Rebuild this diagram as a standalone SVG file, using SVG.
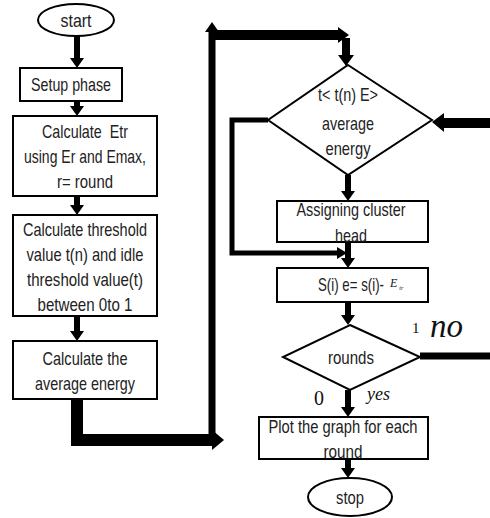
<svg xmlns="http://www.w3.org/2000/svg" width="490" height="518" viewBox="0 0 490 518">
<style>
.box{fill:#fff;stroke:#000;stroke-width:2}
.t{font-family:"Liberation Sans",Arial,sans-serif;font-size:19px;fill:#222;text-anchor:middle}
.ln{fill:none;stroke:#000;stroke-linejoin:miter}
.hd{fill:#000}
.it{font-family:"Liberation Serif","Times New Roman",serif;font-style:italic;fill:#111}
.sf{font-family:"Liberation Serif","Times New Roman",serif;fill:#111}
</style>
<rect width="490" height="518" fill="#fff"/>
<g id="connectors">
  <path class="ln" stroke-width="6" d="M77 35V59M77 101V107M77 196V206M77 316V332M348 175V192M348 242V259M348 302V316M348 390V408M348 459V469"/>
  <polygon class="hd" points="70,58 84,58 77,68"/>
  <polygon class="hd" points="70,106 84,106 77,116"/>
  <polygon class="hd" points="70,205 84,205 77,215"/>
  <polygon class="hd" points="70,331 84,331 77,341"/>
  <polygon class="hd" points="341,191 355,191 348,201"/>
  <polygon class="hd" points="341,258 355,258 348,268"/>
  <polygon class="hd" points="341,315 355,315 348,325"/>
  <polygon class="hd" points="341,407 355,407 348,417"/>
  <polygon class="hd" points="341,468 355,468 348,478"/>
  <path class="ln" stroke-width="12" d="M77 399V440H214"/>
  <polygon class="hd" points="212,430 224,440 212,450"/>
  <path class="ln" stroke-width="7" d="M212 446V30"/>
  <polygon class="hd" points="205,32 212,22 219,32"/>
  <path class="ln" stroke-width="10" d="M209 35H340"/>
  <polygon class="hd" points="338,27 349,35 338,43"/>
  <path class="ln" stroke-width="8" d="M346 38V56"/>
  <polygon class="hd" points="338,55 354,55 346,66"/>
  <path class="ln" stroke-width="10" d="M490 123H442"/>
  <polygon class="hd" points="444,113 432,122 444,132"/>
  <path class="ln" stroke-width="5" d="M268 120H232V253H338"/>
  <polygon class="hd" points="337,247 347,253 337,259"/>
  <path class="ln" stroke-width="7" d="M420 356H490"/>
</g>
<g id="start">
  <ellipse class="box" cx="76" cy="20" rx="38" ry="16"/>
  <text class="t" x="76" y="27" textLength="31" lengthAdjust="spacingAndGlyphs">start</text>
</g>
<g id="setup">
  <rect class="box" x="20" y="68" width="102" height="33"/>
  <text class="t" x="71" y="91" textLength="80" lengthAdjust="spacingAndGlyphs">Setup phase</text>
</g>
<g id="etr">
  <rect class="box" x="13" y="116" width="144" height="80"/>
  <text class="t" x="85" y="138" textLength="86" lengthAdjust="spacingAndGlyphs" style="white-space:pre">Calculate  Etr</text>
  <text class="t" x="85" y="163" textLength="122" lengthAdjust="spacingAndGlyphs">using Er and Emax,</text>
  <text class="t" x="85" y="188" textLength="56" lengthAdjust="spacingAndGlyphs">r= round</text>
</g>
<g id="threshold">
  <rect class="box" x="13" y="215" width="144" height="101"/>
  <text class="t" x="85" y="236" textLength="124" lengthAdjust="spacingAndGlyphs">Calculate threshold</text>
  <text class="t" x="85" y="261" textLength="117" lengthAdjust="spacingAndGlyphs">value t(n) and idle</text>
  <text class="t" x="85" y="286" textLength="116" lengthAdjust="spacingAndGlyphs">threshold value(t)</text>
  <text class="t" x="85" y="311" textLength="95" lengthAdjust="spacingAndGlyphs">between 0to 1</text>
</g>
<g id="average">
  <rect class="box" x="13" y="341" width="144" height="58"/>
  <text class="t" x="85" y="365" textLength="85" lengthAdjust="spacingAndGlyphs">Calculate the</text>
  <text class="t" x="85" y="390" textLength="100" lengthAdjust="spacingAndGlyphs">average energy</text>
</g>
<g id="decision">
  <polygon class="box" points="348,65 432,120 348,175 268,120"/>
  <text class="t" x="348" y="101" textLength="60" lengthAdjust="spacingAndGlyphs">t&lt; t(n) E&gt;</text>
  <text class="t" x="348" y="130" textLength="52" lengthAdjust="spacingAndGlyphs">average</text>
  <text class="t" x="348" y="155" textLength="45" lengthAdjust="spacingAndGlyphs">energy</text>
</g>
<g id="cluster">
  <rect class="box" x="277" y="201" width="151" height="41"/>
  <text class="t" x="351" y="216" textLength="109" lengthAdjust="spacingAndGlyphs">Assigning cluster</text>
  <text class="t" x="351" y="242" textLength="32" lengthAdjust="spacingAndGlyphs">head</text>
</g>
<g id="energy">
  <rect class="box" x="277" y="268" width="151" height="34"/>
  <text class="t" x="318" y="291" textLength="66" lengthAdjust="spacingAndGlyphs" style="text-anchor:start">S(i) e= s(i)-</text>
  <text class="it" x="390" y="287" font-size="12">E<tspan font-size="6" dx="2" dy="3">tr</tspan></text>
</g>
<g id="rounds">
  <polygon class="box" points="350,325 420,357 350,390 283,357"/>
  <text class="t" x="351" y="364" textLength="46" lengthAdjust="spacingAndGlyphs">rounds</text>
  <text class="sf" x="412" y="333" font-size="15">1</text>
  <text class="it" x="430" y="337" font-size="33">no</text>
  <text class="sf" x="314" y="405" font-size="20">0</text>
  <text class="it" x="367" y="400" font-size="18">yes</text>
</g>
<g id="plot">
  <rect class="box" x="259" y="417" width="169" height="42"/>
  <text class="t" x="343" y="433" textLength="149" lengthAdjust="spacingAndGlyphs">Plot the graph for each</text>
  <text class="t" x="343" y="458" textLength="39" lengthAdjust="spacingAndGlyphs">round</text>
</g>
<g id="stop">
  <ellipse class="box" cx="350" cy="497" rx="42" ry="19"/>
  <text class="t" x="350" y="504" textLength="28" lengthAdjust="spacingAndGlyphs">stop</text>
</g>
</svg>
